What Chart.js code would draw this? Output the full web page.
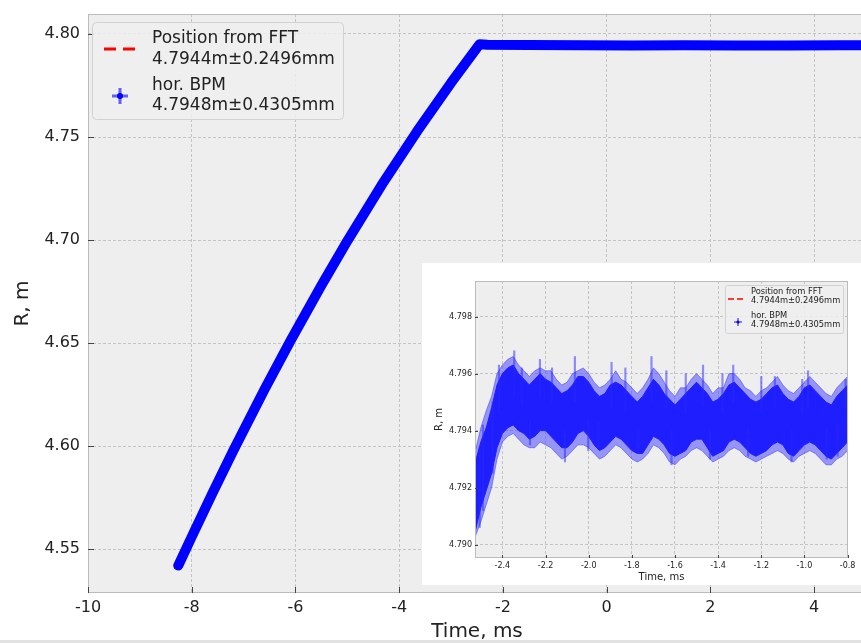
<!DOCTYPE html>
<html>
<head>
<meta charset="utf-8">
<script src="https://cdn.jsdelivr.net/npm/chart.js@4.4.1/dist/chart.umd.min.js"></script>
<style>
  html, body { margin: 0; padding: 0; background: #fff; overflow: hidden; }
  #wrap { position: relative; width: 861px; height: 643px; overflow: hidden; }
  #main { position: absolute; left: 0; top: 0; }
  #inset { position: absolute; left: 422px; top: 263px; background: #fff; }
  #edge { position: absolute; left: 0; top: 640px; width: 861px; height: 3px; background: #e2e2e2; }
</style>
</head>
<body>
<div id="wrap">
  <canvas id="main" width="866" height="643"></canvas>
  <canvas id="inset" width="439" height="322"></canvas>
  <div id="edge"></div>
</div>
<script>
// main plot: radius vs time (ramp then flat top)
var mainTime = [-8.26, -8.0, -7.6, -7.2, -6.6, -6.1, -5.5, -4.99, -4.3, -3.66, -3.0, -2.75, -2.45,
                -2.3, -1.5, -0.5, 0.5, 1.5, 2.5, 3.5, 4.5, 4.95];
var mainR = [4.5420, 4.5560, 4.5772, 4.5977, 4.6273, 4.6509, 4.6780, 4.7000, 4.7282, 4.7526, 4.7763, 4.7848, 4.7950,
             4.7948, 4.7946, 4.7945, 4.7944, 4.7945, 4.7944, 4.7944, 4.7945, 4.7945];
var mainXTicks = [-10, -8, -6, -4, -2, 0, 2, 4];
var mainYTicks = [4.55, 4.60, 4.65, 4.70, 4.75, 4.80];

// inset: zoom on the flat top, band of BPM points with error bars
var insetTime = [-2.525,-2.500,-2.475,-2.450,-2.425,-2.400,-2.375,-2.350,-2.325,-2.300,
                 -2.275,-2.250,-2.225,-2.200,-2.175,-2.150,-2.125,-2.100,-2.075,-2.050,
                 -2.025,-2.000,-1.975,-1.950,-1.925,-1.900,-1.875,-1.850,-1.825,-1.800,
                 -1.775,-1.750,-1.725,-1.700,-1.675,-1.650,-1.625,-1.600,-1.575,-1.550,
                 -1.525,-1.500,-1.475,-1.450,-1.425,-1.400,-1.375,-1.350,-1.325,-1.300,
                 -1.275,-1.250,-1.225,-1.200,-1.175,-1.150,-1.125,-1.100,-1.075,-1.050,
                 -1.025,-1.000,-0.975,-0.950,-0.925,-0.900,-0.875,-0.850,-0.825,-0.800];
var insetCoreHi = [4.7929,4.7936,4.7941,4.7948,4.7956,4.7960,4.7962,4.7963,4.7960,4.7958,
                   4.7956,4.7958,4.7960,4.7958,4.7957,4.7955,4.7953,4.7954,4.7956,4.7959,
                   4.7959,4.7957,4.7954,4.7952,4.7953,4.7956,4.7957,4.7956,4.7954,4.7952,
                   4.7950,4.7952,4.7955,4.7958,4.7956,4.7953,4.7951,4.7949,4.7951,4.7953,
                   4.7955,4.7957,4.7955,4.7953,4.7950,4.7951,4.7953,4.7956,4.7957,4.7955,
                   4.7953,4.7951,4.7950,4.7951,4.7953,4.7955,4.7956,4.7953,4.7951,4.7950,
                   4.7952,4.7955,4.7956,4.7954,4.7952,4.7950,4.7949,4.7952,4.7954,4.7956];
var insetCoreLo = [4.7905,4.7913,4.7919,4.7925,4.7934,4.7939,4.7941,4.7942,4.7940,4.7939,
                   4.7937,4.7938,4.7940,4.7940,4.7938,4.7936,4.7934,4.7934,4.7936,4.7939,
                   4.7940,4.7938,4.7935,4.7933,4.7934,4.7936,4.7938,4.7937,4.7935,4.7933,
                   4.7932,4.7932,4.7935,4.7938,4.7937,4.7935,4.7932,4.7931,4.7932,4.7933,
                   4.7936,4.7937,4.7937,4.7934,4.7931,4.7932,4.7933,4.7936,4.7937,4.7936,
                   4.7934,4.7932,4.7931,4.7932,4.7933,4.7935,4.7936,4.7935,4.7932,4.7931,
                   4.7933,4.7935,4.7936,4.7935,4.7933,4.7931,4.7930,4.7932,4.7934,4.7936];
var insetErrHi = [4.7933,4.7941,4.7947,4.7952,4.7960,4.7963,4.7965,4.7966,4.7963,4.7961,
                  4.7959,4.7961,4.7962,4.7961,4.7961,4.7958,4.7956,4.7957,4.7960,4.7961,
                  4.7962,4.7960,4.7957,4.7955,4.7956,4.7958,4.7961,4.7958,4.7957,4.7955,
                  4.7953,4.7955,4.7958,4.7962,4.7960,4.7957,4.7954,4.7952,4.7955,4.7955,
                  4.7958,4.7960,4.7958,4.7956,4.7953,4.7955,4.7955,4.7960,4.7960,4.7958,
                  4.7955,4.7954,4.7952,4.7954,4.7955,4.7957,4.7959,4.7956,4.7954,4.7953,
                  4.7955,4.7957,4.7959,4.7957,4.7955,4.7953,4.7952,4.7955,4.7957,4.7959];
var insetErrLo = [4.7903,4.7908,4.7914,4.7920,4.7930,4.7936,4.7938,4.7939,4.7937,4.7935,
                  4.7934,4.7934,4.7936,4.7935,4.7934,4.7932,4.7930,4.7931,4.7933,4.7935,
                  4.7935,4.7934,4.7932,4.7930,4.7931,4.7933,4.7935,4.7934,4.7932,4.7930,
                  4.7929,4.7930,4.7932,4.7935,4.7934,4.7932,4.7929,4.7928,4.7930,4.7931,
                  4.7933,4.7934,4.7933,4.7931,4.7929,4.7930,4.7931,4.7933,4.7934,4.7933,
                  4.7931,4.7930,4.7929,4.7930,4.7931,4.7932,4.7933,4.7932,4.7930,4.7929,
                  4.7931,4.7932,4.7933,4.7932,4.7930,4.7928,4.7928,4.7930,4.7931,4.7933];
// single long error bars sticking out of the band
var spikeTime = [-2.505, -2.49, -2.445, -2.416, -2.345, -2.31, -2.272, -2.226, -2.17, -2.11, -2.064,
                 -2.002, -1.956, -1.894, -1.83, -1.77, -1.709, -1.64, -1.616, -1.55, -1.47, -1.438,
                 -1.38, -1.33, -1.261, -1.2, -1.137, -1.06, -1.01, -0.983, -0.897, -0.846, -0.809];
var spikeLo = [4.7906, 4.7912, 4.7925, 4.7946, 4.7952, 4.7949, 4.7935, 4.7952, 4.7950, 4.7929, 4.7950,
               4.7933, 4.7934, 4.7948, 4.7947, 4.7932, 4.7950, 4.7948, 4.7928, 4.7946, 4.7949, 4.7930,
               4.7947, 4.7950, 4.7931, 4.7946, 4.7948, 4.7929, 4.7946, 4.7948, 4.7930, 4.7931, 4.7948];
var spikeHi = [4.7934, 4.7942, 4.7950, 4.7963, 4.7968, 4.7962, 4.7944, 4.7965, 4.7962, 4.7940, 4.7966,
               4.7944, 4.7943, 4.7964, 4.7962, 4.7941, 4.7966, 4.7961, 4.7940, 4.7960, 4.7963, 4.7941,
               4.7960, 4.7963, 4.7941, 4.7959, 4.7959, 4.7940, 4.7958, 4.7961, 4.7941, 4.7942, 4.7958];
var insetXTicks = [-2.4, -2.2, -2.0, -1.8, -1.6, -1.4, -1.2, -1.0, -0.8];
var insetYTicks = [4.790, 4.792, 4.794, 4.796, 4.798];

var legendLines = ['Position from FFT', '4.7944m\u00b10.2496mm', 'hor. BPM', '4.7948m\u00b10.4305mm'];

Chart.defaults.font.family = '"DejaVu Sans", sans-serif';
Chart.defaults.color = '#222';

function pts(xs, ys) {
  return xs.map(function(x, i) { return {x: x, y: ys[i]}; });
}
function bars(xs, lo, hi) {
  return xs.map(function(x, i) { return {x: x, y: [lo[i], hi[i]]}; });
}

// grey plot background, frame and inward tick marks (matplotlib look)
var bgPlugin = {
  id: 'bg',
  beforeDraw: function(chart) {
    var a = chart.chartArea, ctx = chart.ctx;
    ctx.save();
    ctx.fillStyle = '#eeeeee';
    ctx.fillRect(a.left, a.top, a.right - a.left, a.bottom - a.top);
    ctx.restore();
  },
  afterDatasetsDraw: function(chart, args, opts) {
    var a = chart.chartArea, ctx = chart.ctx, len = opts.len || 6;
    ctx.save();
    ctx.strokeStyle = '#bcbcbc';
    ctx.lineWidth = 1;
    ctx.strokeRect(a.left + 0.5, a.top + 0.5, a.right - a.left - 1, a.bottom - a.top - 1);
    ctx.strokeStyle = '#444';
    ctx.beginPath();
    chart.scales.x.ticks.forEach(function(t) {
      var px = Math.round(chart.scales.x.getPixelForValue(t.value)) + 0.5;
      ctx.moveTo(px, a.bottom); ctx.lineTo(px, a.bottom - len);
    });
    chart.scales.y.ticks.forEach(function(t) {
      var py = Math.round(chart.scales.y.getPixelForValue(t.value)) + 0.5;
      ctx.moveTo(a.left, py); ctx.lineTo(a.left + len, py);
    });
    ctx.stroke();
    ctx.restore();
  }
};

// legend box with two-line labels, drawn by hand
var legendPlugin = {
  id: 'boxLegend',
  afterDatasetsDraw: function(chart, args, o) {
    if (!o.box) return;
    var ctx = chart.ctx, b = o.box;
    ctx.save();
    ctx.beginPath();
    ctx.roundRect(b[0] + 0.5, b[1] + 0.5, b[2] - b[0], b[3] - b[1], o.radius);
    ctx.fillStyle = 'rgba(238,238,238,0.85)';
    ctx.fill();
    ctx.strokeStyle = '#d2d2d2';
    ctx.lineWidth = 1;
    ctx.stroke();
    // red dashed sample
    ctx.strokeStyle = 'red';
    ctx.lineWidth = o.lw;
    ctx.setLineDash(o.dash);
    ctx.beginPath();
    ctx.moveTo(o.dashX[0], o.dashY); ctx.lineTo(o.dashX[1], o.dashY);
    ctx.stroke();
    ctx.setLineDash([]);
    // errorbar marker sample
    ctx.strokeStyle = 'rgba(0,0,255,0.6)';
    ctx.lineWidth = o.lw;
    ctx.beginPath();
    ctx.moveTo(o.plus[0] - o.arm, o.plus[1]); ctx.lineTo(o.plus[0] + o.arm, o.plus[1]);
    ctx.moveTo(o.plus[0], o.plus[1] - o.arm); ctx.lineTo(o.plus[0], o.plus[1] + o.arm);
    ctx.stroke();
    ctx.fillStyle = 'blue';
    ctx.beginPath();
    ctx.arc(o.plus[0], o.plus[1], o.dot, 0, Math.PI * 2);
    ctx.fill();
    ctx.fillStyle = '#222';
    ctx.font = o.font + 'px "DejaVu Sans"';
    ctx.textBaseline = 'alphabetic';
    legendLines.forEach(function(s, i) { ctx.fillText(s, o.textX, o.baselines[i]); });
    ctx.restore();
  }
};

function axisX(min, max, ticks, fontSize, pad, h, title, titleSize, titlePad, dec) {
  return {
    type: 'linear', min: min, max: max, offset: false,
    afterFit: function(s) { s.height = h; },
    afterBuildTicks: function(s) { s.ticks = ticks.map(function(v) { return {value: v}; }); },
    ticks: { font: {size: fontSize}, padding: pad, maxRotation: 0,
             callback: function(v) { return dec ? v.toFixed(dec) : String(v); } },
    grid: { color: '#c4c4c4', drawTicks: false, offset: false },
    border: { display: false, dash: [3, 2] },
    title: { display: true, text: title, font: {size: titleSize, lineHeight: 1}, padding: {top: 0, bottom: titlePad} }
  };
}
function axisY(min, max, ticks, fontSize, pad, w, title, titleSize, titlePad, dec) {
  return {
    type: 'linear', min: min, max: max,
    afterFit: function(s) { s.width = w; },
    afterBuildTicks: function(s) { s.ticks = ticks.map(function(v) { return {value: v}; }); },
    // small lineHeight so the label half-height does not push the plot top down
    ticks: { font: {size: fontSize, lineHeight: 0.75}, padding: pad,
             callback: function(v) { return v.toFixed(dec); } },
    grid: { color: '#c4c4c4', drawTicks: false },
    border: { display: false, dash: [3, 2] },
    title: { display: true, text: title, font: {size: titleSize, lineHeight: 1}, padding: {top: titlePad, bottom: 0} }
  };
}

// ================= main chart
new Chart(document.getElementById('main'), {
  type: 'line',
  data: {
    datasets: [{
      label: 'hor. BPM',
      data: pts(mainTime, mainR),
      borderColor: 'rgb(0,0,255)',
      borderWidth: 10,
      borderCapStyle: 'round',
      borderJoinStyle: 'round',
      pointRadius: 0,
      tension: 0,
      fill: false
    }]
  },
  options: {
    responsive: false,
    animation: false,
    layout: { padding: {top: 14, left: 0, right: 0, bottom: 0} },
    plugins: {
      legend: { display: false },
      tooltip: { enabled: false },
      bg: { len: 6 },
      boxLegend: {
        box: [92, 22, 343, 119], radius: 4,
        dashX: [104, 136], dashY: 49, dash: [12, 7], lw: 3,
        plus: [120, 96], arm: 8, dot: 3,
        font: 17, textX: 152, baselines: [43, 64, 90, 110]
      }
    },
    scales: {
      x: axisX(-10, 5, mainXTicks, 16, 5, 50, 'Time, ms', 20, 1, 0),
      y: axisY(4.5287, 4.8097, mainYTicks, 16, 8, 88, 'R, m', 20, 13, 2)
    }
  },
  plugins: [bgPlugin, legendPlugin]
});

// ================= inset chart
new Chart(document.getElementById('inset'), {
  type: 'line',
  data: {
    datasets: [
      { type: 'bar', label: 'spikes', data: bars(spikeTime, spikeLo, spikeHi),
        backgroundColor: 'rgba(40,40,255,0.5)', borderWidth: 0, barThickness: 1.5 },
      { label: 'err lo', data: pts(insetTime, insetErrLo), borderColor: 'rgba(60,60,255,0.55)', borderWidth: 1,
        pointRadius: 0, tension: 0, fill: false },
      { label: 'err hi', data: pts(insetTime, insetErrHi), borderColor: 'rgba(60,60,255,0.55)', borderWidth: 1,
        backgroundColor: 'rgba(60,60,255,0.5)', pointRadius: 0, tension: 0, fill: '-1' },
      { label: 'core lo', data: pts(insetTime, insetCoreLo), borderColor: 'rgb(0,0,255)', borderWidth: 1,
        pointRadius: 0, tension: 0, fill: false },
      { label: 'core hi', data: pts(insetTime, insetCoreHi), borderColor: 'rgb(0,0,255)', borderWidth: 1,
        backgroundColor: 'rgb(0,0,255)', pointRadius: 0, tension: 0, fill: '-1' }
    ]
  },
  options: {
    responsive: false,
    animation: false,
    layout: { padding: {top: 18, left: 0, right: 13, bottom: 0} },
    plugins: {
      legend: { display: false },
      tooltip: { enabled: false },
      bg: { len: 3 },
      boxLegend: {
        box: [303, 22, 421, 70], radius: 2,
        dashX: [306, 322], dashY: 36, dash: [6, 3], lw: 1.5,
        plus: [316, 59], arm: 4, dot: 1.5,
        font: 8.3, textX: 329, baselines: [31, 40, 55, 64]
      }
    },
    scales: {
      x: axisX(-2.527, -0.798, insetXTicks, 8, 3, 27, 'Time, ms', 10, 3, 1),
      y: axisY(4.78953, 4.79925, insetYTicks, 8, 3, 53, 'R, m', 10, 12, 3)
    }
  },
  plugins: [bgPlugin, legendPlugin]
});
</script>
</body>
</html>
